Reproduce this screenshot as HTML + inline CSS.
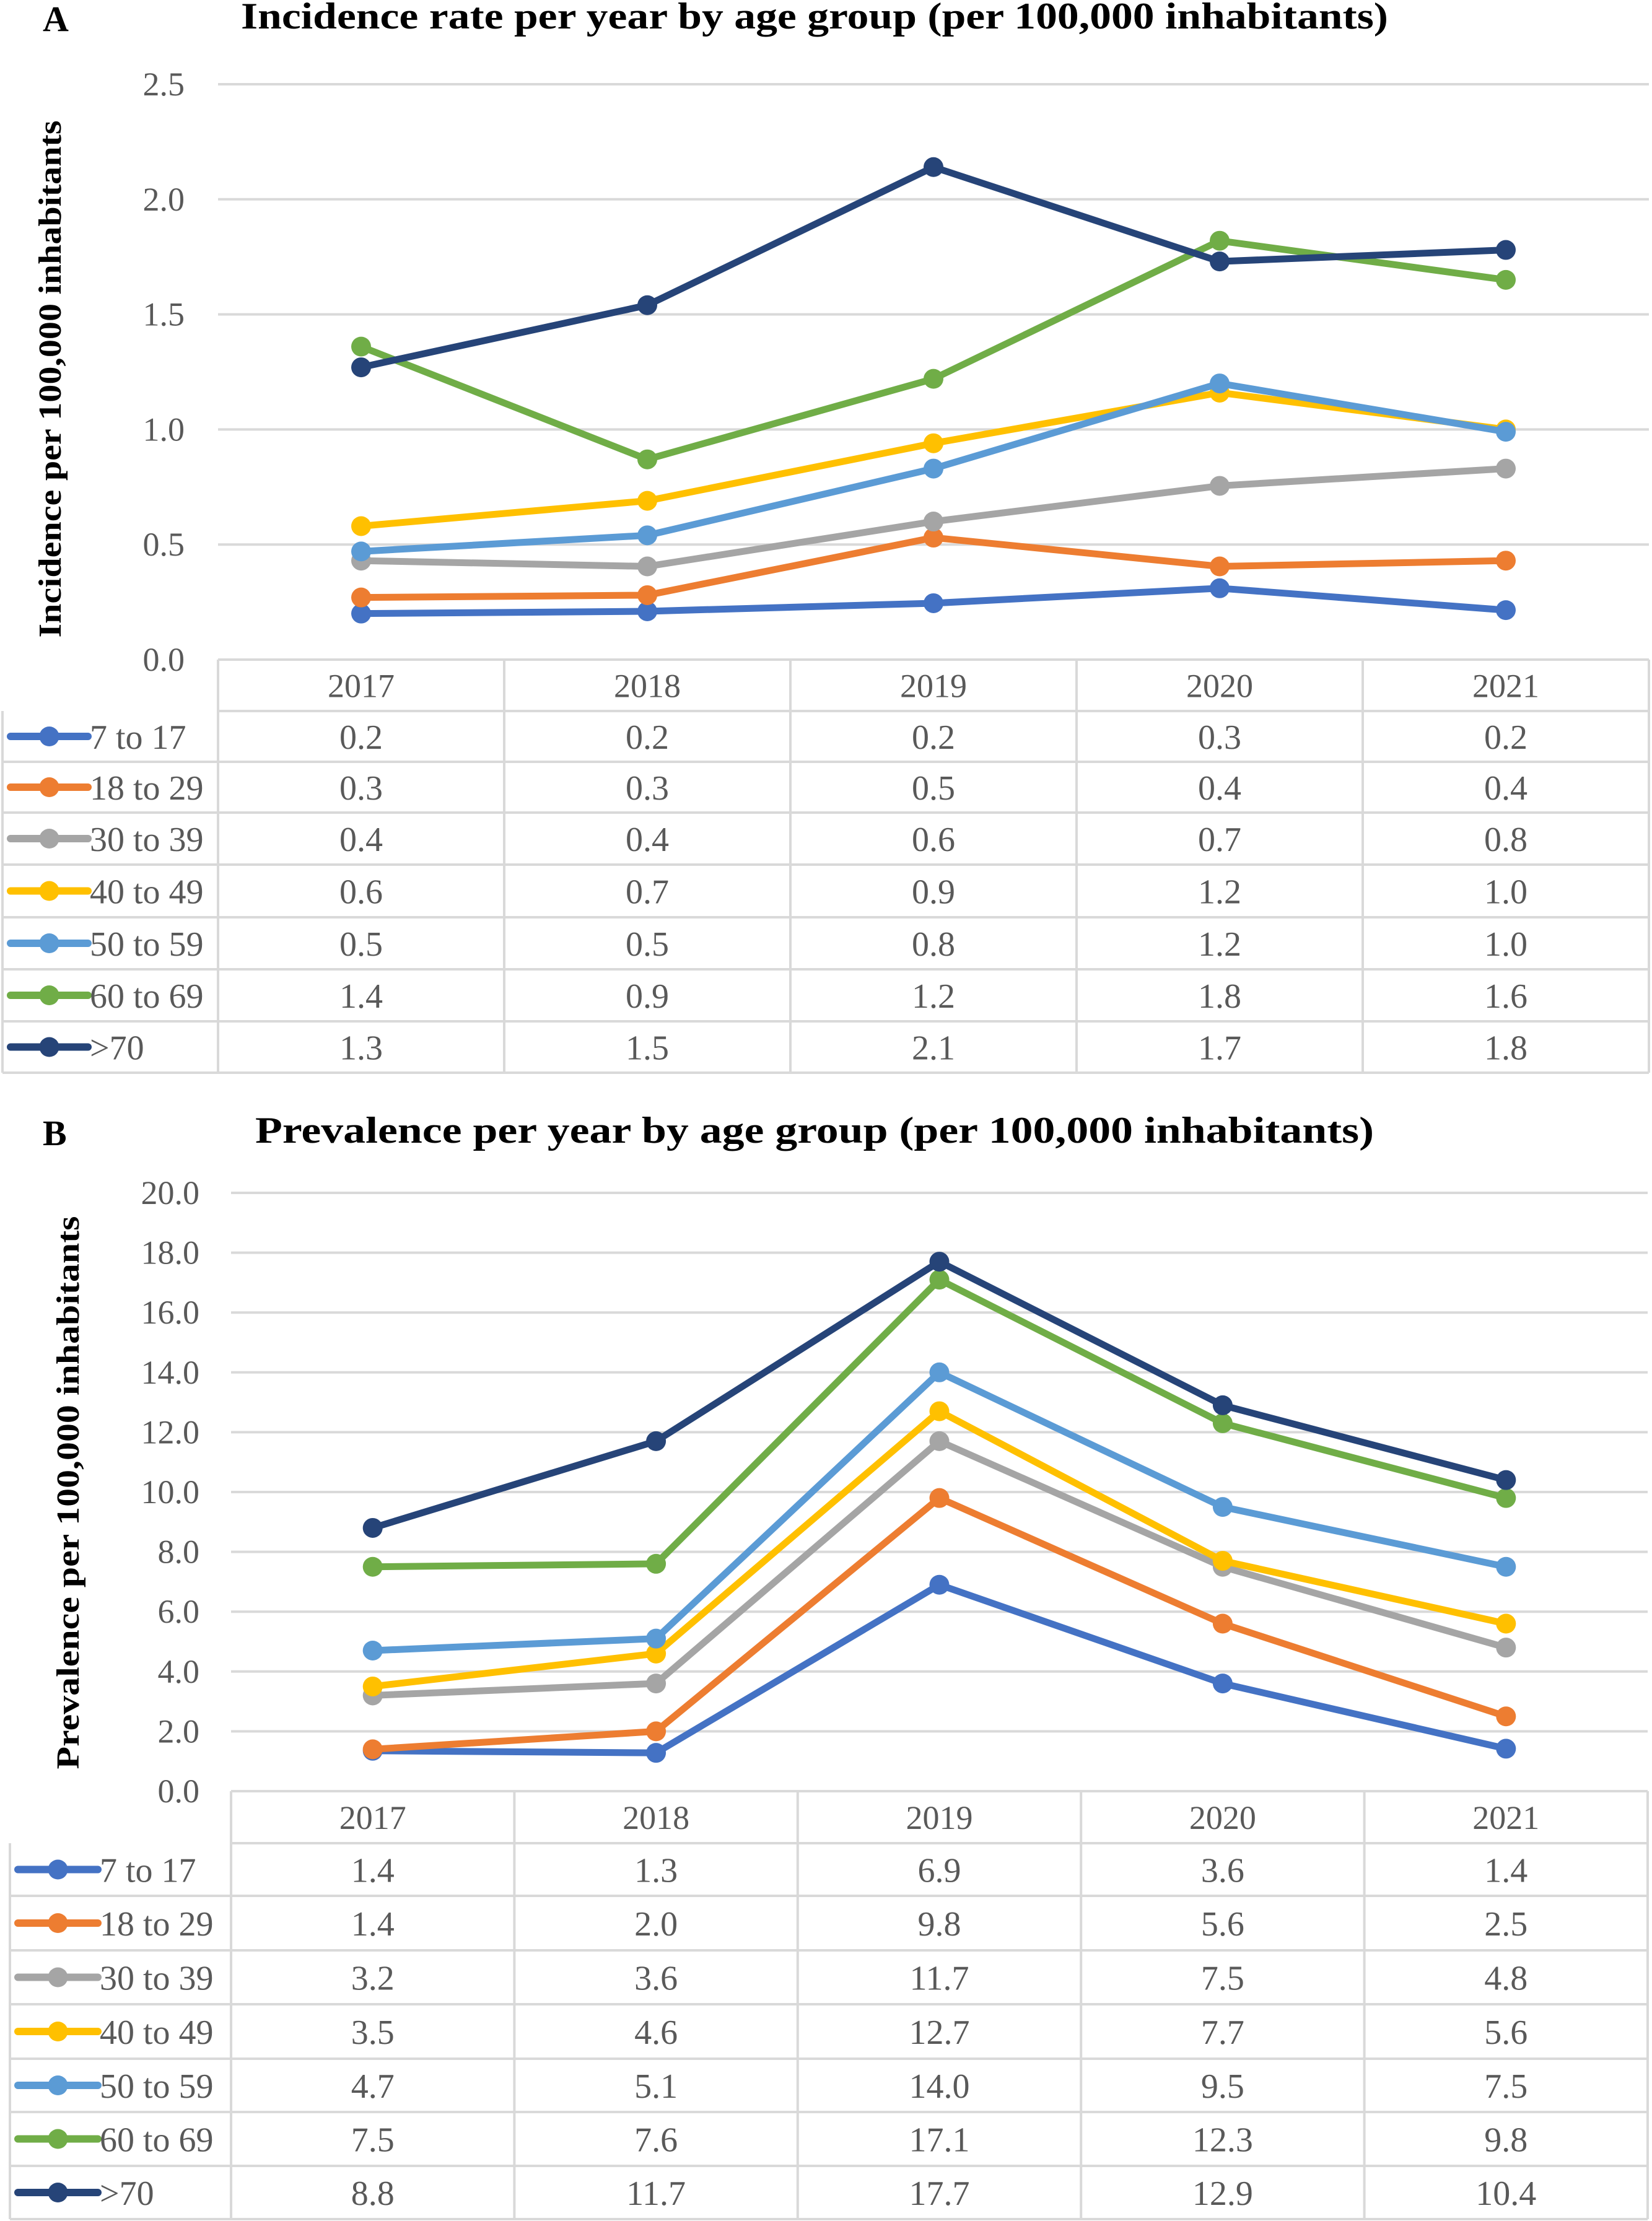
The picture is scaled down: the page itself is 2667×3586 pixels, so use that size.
<!DOCTYPE html>
<html><head><meta charset="utf-8"><style>
html,body{margin:0;padding:0;background:#fff;}
svg{display:block;}
text{font-family:"Liberation Serif","Times New Roman",serif;}
</style></head><body>
<svg id="svg" width="2667" height="3586" viewBox="0 0 2667 3586" xmlns="http://www.w3.org/2000/svg" font-family="Liberation Serif, serif">
<rect width="2667" height="3586" fill="#fff"/>
</svg>
<script>
const years = ["2017","2018","2019","2020","2021"];
const groups = ["7 to 17","18 to 29","30 to 39","40 to 49","50 to 59","60 to 69",">70"];
const colors = ["#4472C4","#ED7D31","#A5A5A5","#FFC000","#5B9BD5","#70AD47","#264478"];
// Chart A: incidence (plotted values)
const incA717 = [0.20,0.21,0.245,0.31,0.215];
const incA1829 = [0.27,0.28,0.53,0.405,0.43];
const incA3039 = [0.43,0.405,0.60,0.755,0.83];
const incA4049 = [0.58,0.69,0.94,1.16,1.00];
const incA5059 = [0.47,0.54,0.83,1.20,0.99];
const incA6069 = [1.36,0.87,1.22,1.82,1.65];
const incA70 = [1.27,1.54,2.14,1.73,1.78];
const tableA = [["0.2","0.2","0.2","0.3","0.2"],["0.3","0.3","0.5","0.4","0.4"],["0.4","0.4","0.6","0.7","0.8"],["0.6","0.7","0.9","1.2","1.0"],["0.5","0.5","0.8","1.2","1.0"],["1.4","0.9","1.2","1.8","1.6"],["1.3","1.5","2.1","1.7","1.8"]];
const ticksA = ["0.0","0.5","1.0","1.5","2.0","2.5"];
// Chart B: prevalence
const preB717 = [1.35,1.28,6.9,3.6,1.42];
const preB1829 = [1.4,2.0,9.8,5.6,2.5];
const preB3039 = [3.2,3.6,11.7,7.5,4.8];
const preB4049 = [3.5,4.6,12.7,7.7,5.6];
const preB5059 = [4.7,5.1,14.0,9.5,7.5];
const preB6069 = [7.5,7.6,17.1,12.3,9.8];
const preB70 = [8.8,11.7,17.7,12.9,10.4];
const tableB = [["1.4","1.3","6.9","3.6","1.4"],["1.4","2.0","9.8","5.6","2.5"],["3.2","3.6","11.7","7.5","4.8"],["3.5","4.6","12.7","7.7","5.6"],["4.7","5.1","14.0","9.5","7.5"],["7.5","7.6","17.1","12.3","9.8"],["8.8","11.7","17.7","12.9","10.4"]];
const ticksB = ["0.0","2.0","4.0","6.0","8.0","10.0","12.0","14.0","16.0","18.0","20.0"];

const NS="http://www.w3.org/2000/svg";
const svg=document.getElementById('svg');
const FF='Liberation Serif, serif';
function mk(tag,attrs,parent){const e=document.createElementNS(NS,tag);for(const k in attrs)e.setAttribute(k,attrs[k]);if(tag==='text')e.setAttribute('font-family',FF);(parent||svg).appendChild(e);return e;}

function chart(cfg){
  const g=mk('g',{});
  
  
  const colW=(cfg.right-cfg.left)/years.length;
  const xs=i=>cfg.left+colW*(i+0.5);
  const ys=v=>cfg.y0-(v/cfg.max)*(cfg.y0-cfg.yTop);
  const t=mk('text',{x:cfg.titleX,y:cfg.titleY,'font-size':60,'font-weight':'bold',fill:'#000',textLength:cfg.titleW,lengthAdjust:'spacingAndGlyphs'},g);
  t.textContent=cfg.title;
  
  
  const p=mk('text',{x:69,y:cfg.titleY+4,'font-size':58,'font-weight':'bold',fill:'#000'},g);
  p.textContent=cfg.panel;
  
  
  const yl=mk('text',{x:0,y:0,'font-size':52,'font-weight':'bold',fill:'#000','text-anchor':'middle',textLength:cfg.ylabW,lengthAdjust:'spacingAndGlyphs',transform:`translate(${cfg.ylabX},${cfg.ylabY}) rotate(-90)`},g);
  yl.textContent=cfg.ylab;
  
  
  cfg.ticks.forEach(tk=>{
    const v=parseFloat(tk),y=ys(v);
    if(v>0){const l=mk('line',{x1:cfg.left,x2:cfg.right,y1:y,y2:y,stroke:'#d9d9d9','stroke-width':4},g);
      
      }
    const tt=mk('text',{x:cfg.tickX,y:y+18,'font-size':54,fill:'#595959','text-anchor':'end'},g);
    tt.textContent=tk;
    
    
  });
  const rows=cfg.rows;
  const gc='#d9d9d9';
  mk('line',{x1:cfg.left,x2:cfg.right,y1:cfg.y0,y2:cfg.y0,stroke:gc,'stroke-width':4},g);
  for(let r=0;r<rows.length;r++){
    const x1=r===0?cfg.left:cfg.tableLeft;
    mk('line',{x1:x1,x2:cfg.right,y1:rows[r],y2:rows[r],stroke:gc,'stroke-width':4},g);
  }
  mk('line',{x1:cfg.tableLeft,x2:cfg.tableLeft,y1:rows[0],y2:rows[rows.length-1],stroke:gc,'stroke-width':4},g);
  for(let i=0;i<=years.length;i++){
    const x=cfg.left+colW*i;
    mk('line',{x1:x,x2:x,y1:cfg.y0,y2:rows[rows.length-1],stroke:gc,'stroke-width':4},g);
  }
  years.forEach((yr,i)=>{
    const tx=mk('text',{x:xs(i),y:(cfg.y0+rows[0])/2+19,'font-size':54,fill:'#595959','text-anchor':'middle'},g);
    tx.textContent=yr;
    
    
  });
  groups.forEach((gr,k)=>{
    const cy=(rows[k]+rows[k+1])/2;
    const le=mk('g',{},g);
    
    
    mk('line',{x1:cfg.legX1,x2:cfg.legX2,y1:cy,y2:cy,stroke:colors[k],'stroke-width':12,'stroke-linecap':'round'},le);
    mk('circle',{cx:(cfg.legX1+cfg.legX2)/2,cy:cy,r:16,fill:colors[k]},le);
    const lt=mk('text',{x:cfg.legX2+3,y:cy+20,'font-size':56,fill:'#595959'},le);
    lt.textContent=gr;
    cfg.table[k].forEach((v,i)=>{
      const c=mk('text',{x:xs(i),y:cy+20,'font-size':56,fill:'#595959','text-anchor':'middle'},g);
      c.textContent=v;
      
      
    });
  });
  cfg.series.forEach((vals,k)=>{
    const sg=mk('g',{},g);
    
    
    const pts=vals.map((v,i)=>xs(i)+','+ys(v)).join(' ');
    mk('polyline',{points:pts,fill:'none',stroke:colors[k],'stroke-width':11,'stroke-linejoin':'round'},sg);
    vals.forEach((v,i)=>{
      const c=mk('circle',{cx:xs(i),cy:ys(v),r:16,fill:colors[k]},sg);
      
      
    });
  });
}

chart({id:'incidence',panel:'A',title:'Incidence rate per year by age group (per 100,000 inhabitants)',
  titleX:389,titleY:46,titleW:1852,
  ylab:'Incidence per 100,000 inhabitants',ylabX:98,ylabY:612,ylabW:835,
  left:352,right:2662,y0:1065,yTop:136,max:2.5,ticks:ticksA,tickX:298,
  rows:[1148,1230,1312,1396,1481,1565,1649,1732],tableLeft:4,legX1:17,legX2:142,
  table:tableA,series:[incA717,incA1829,incA3039,incA4049,incA5059,incA6069,incA70]});

chart({id:'prevalence',panel:'B',title:'Prevalence per year by age group (per 100,000 inhabitants)',
  titleX:412,titleY:1845,titleW:1806,
  ylab:'Prevalence per 100,000 inhabitants',ylabX:127,ylabY:2410,ylabW:893,
  left:373,right:2660,y0:2892,yTop:1926,max:20,ticks:ticksB,tickX:322,
  rows:[2976,3061,3149,3236,3324,3410,3497,3583],tableLeft:16,legX1:29,legX2:158,
  table:tableB,series:[preB717,preB1829,preB3039,preB4049,preB5059,preB6069,preB70]});
</script>
</body></html>
